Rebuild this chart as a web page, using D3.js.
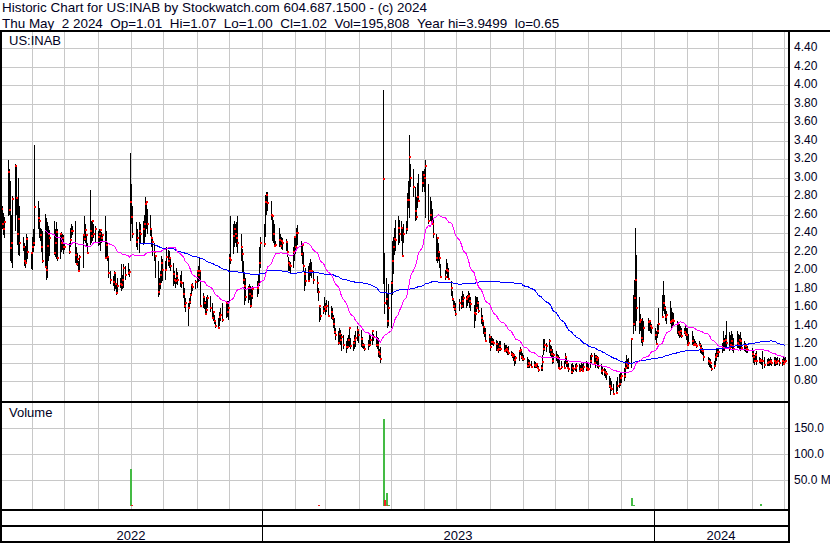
<!DOCTYPE html>
<html>
<head>
<meta charset="utf-8">
<title>US:INAB Historic Chart</title>
<script src="https://cdn.jsdelivr.net/npm/d3@7/dist/d3.min.js"></script>
<style>
  html, body { margin: 0; padding: 0; background: #fff; }
  svg { display: block; }
  text { font-family: "Liberation Sans", Arial, sans-serif; fill: #000022; }
</style>
</head>
<body>
<svg id="chart" width="830" height="543"></svg>
<script>
// ================= DATA =================
const titleText = "Historic Chart for US:INAB by Stockwatch.com 604.687.1500 - (c) 2024";
const infoText = "Thu May  2 2024  Op=1.01  Hi=1.07  Lo=1.00  Cl=1.02  Vol=195,808  Year hi=3.9499  lo=0.65";
const symbolText = "US:INAB";
const firstDay = "2022-05-02";
const lastDay = "2024-05-02";
const holidays = ["2022-05-30","2022-06-20","2022-07-04","2022-09-05","2022-11-24","2022-12-26",
  "2023-01-02","2023-01-16","2023-02-20","2023-04-07","2023-05-29","2023-06-19","2023-07-04",
  "2023-09-04","2023-11-23","2023-12-25","2024-01-01","2024-01-15","2024-02-19","2024-03-29"];
const priceTicks = [0.80,1.00,1.20,1.40,1.60,1.80,2.00,2.20,2.40,2.60,2.80,3.00,3.20,3.40,3.60,3.80,4.00,4.20,4.40];
const volumeTicks = [50,100,150];
const volumeTickLabels = ["50.0 M","100.0","150.0"];
const yearLabels = ["2022","2023","2024"];
const maShortPeriod = 30, maLongPeriod = 90;

// daily highs (one row per month, May 2022 .. May 2024)
const highs = [
2.75,2.72,2.70,2.62,2.58,3.19,3.10,2.97,2.60,2.81,3.15,3.13,2.80,3.00,2.70,2.36,2.30,2.26,2.39,2.36,2.19,
2.36,2.45,3.36,2.75,2.68,2.46,2.45,2.43,2.61,2.57,2.52,2.48,2.44,2.53,2.45,2.52,2.45,2.39,2.42,2.40,2.38,
2.29,2.30,2.46,2.50,2.48,2.54,2.25,2.19,2.10,2.17,2.39,2.59,2.50,2.39,2.30,2.87,2.53,2.53,2.50,2.48,
2.43,2.45,2.44,2.42,2.39,2.59,2.43,2.30,2.14,2.00,1.94,1.99,1.97,1.87,1.92,1.92,2.07,1.95,2.07,2.05,2.08,2.02,3.27,
2.93,2.70,2.52,2.45,2.52,2.50,2.54,2.60,2.79,2.75,2.66,2.60,2.45,2.35,2.30,2.17,2.10,1.92,2.00,2.16,2.12,
2.10,2.25,2.22,2.21,2.15,2.08,2.00,1.92,2.03,1.98,1.95,1.99,1.88,1.81,1.70,1.65,1.70,1.76,1.85,1.87,1.90,
1.99,2.05,2.14,1.99,1.76,1.72,1.67,1.71,1.74,1.72,1.65,1.56,1.52,1.47,1.49,1.55,1.60,1.65,1.67,1.67,1.67,
2.18,2.59,2.50,2.54,2.50,2.52,2.59,2.40,2.23,2.10,1.96,1.92,1.83,1.85,1.83,1.80,1.83,1.89,1.95,2.25,2.36,
2.50,2.82,2.85,2.85,2.75,2.61,2.55,2.50,2.32,2.46,2.40,2.36,2.35,2.34,2.30,2.15,2.10,2.09,2.25,2.36,
2.37,2.46,2.49,2.32,2.28,2.20,1.99,2.03,2.05,2.08,2.12,2.09,2.00,1.94,1.81,1.63,1.60,1.62,1.71,
1.65,1.68,1.67,1.62,1.60,1.52,1.49,1.38,1.35,1.38,1.36,1.31,1.30,1.24,1.27,1.30,1.38,1.27,1.24,1.30,1.35,1.40,1.36,
1.36,1.28,1.22,1.20,1.25,1.31,1.30,1.36,1.31,1.35,1.28,1.27,1.15,1.17,3.95,2.19,1.92,1.75,1.85,
1.89,2.32,2.36,2.46,2.55,2.59,2.55,2.53,2.46,2.50,2.53,2.84,2.97,3.47,3.15,3.10,2.90,2.79,2.95,3.04,3.08,3.08,
3.10,3.20,2.93,2.79,2.75,2.66,2.55,2.39,2.35,2.30,2.19,2.07,2.01,2.12,2.08,2.03,1.89,1.78,1.70,1.67,1.65,
1.69,1.72,1.78,1.75,1.72,1.74,1.78,1.76,1.71,1.63,1.72,1.71,1.71,1.67,1.60,1.52,1.45,1.40,1.38,1.31,
1.29,1.29,1.27,1.26,1.25,1.24,1.22,1.24,1.24,1.22,1.20,1.19,1.17,1.18,1.13,1.12,1.11,1.09,1.08,1.13,1.17,1.15,1.11,
1.09,1.06,1.04,1.03,1.02,1.02,1.01,1.00,0.99,0.97,0.98,1.09,1.26,1.26,1.22,1.26,1.20,1.18,1.15,1.11,
1.13,1.10,1.09,1.06,1.02,1.02,1.11,1.08,1.02,1.00,0.99,1.00,0.98,0.99,1.00,0.99,0.98,1.00,0.99,1.00,1.02,1.00,
1.00,1.09,1.11,1.11,1.09,1.09,1.08,1.04,0.99,0.97,0.95,0.93,0.91,0.86,0.84,0.81,0.77,0.81,0.85,0.88,0.90,
0.90,0.95,1.02,1.09,1.04,1.05,1.27,1.74,1.90,2.46,2.17,1.71,1.53,1.45,1.49,1.45,1.49,1.45,1.44,1.42,
1.38,1.35,1.42,1.60,1.74,1.89,1.74,1.62,1.56,1.67,1.60,1.55,1.54,1.45,1.42,1.42,1.40,1.38,1.38,1.42,1.38,
1.38,1.31,1.35,1.29,1.26,1.24,1.22,1.24,1.22,1.20,1.16,1.13,1.07,1.05,1.04,0.98,1.02,1.11,1.16,1.15,
1.15,1.22,1.35,1.27,1.30,1.45,1.33,1.30,1.35,1.31,1.27,1.35,1.31,1.30,1.33,1.27,1.24,1.22,1.20,1.18,
1.16,1.13,1.09,1.11,1.13,1.06,1.05,1.04,1.13,1.06,1.04,1.05,1.04,1.06,1.04,1.07,1.06,1.05,1.07,1.05,1.04,1.06,
1.05,1.07];

const lows = [
2.36,2.40,2.45,2.38,2.35,2.59,2.60,2.10,2.08,2.03,2.43,2.60,2.28,2.17,2.16,2.21,2.05,2.03,2.07,2.12,2.02,
2.01,2.20,2.27,2.45,2.35,2.32,2.20,2.08,2.03,1.90,1.92,2.10,2.16,2.17,2.15,2.12,2.10,2.12,2.20,2.22,2.18,
2.22,2.18,2.25,2.35,2.38,2.08,2.07,2.05,1.99,2.00,2.03,2.32,2.30,2.26,2.18,2.28,2.30,2.32,2.35,2.30,
2.26,2.28,2.21,2.30,2.32,2.14,2.12,2.10,1.92,1.85,1.83,1.78,1.80,1.74,1.76,1.81,1.78,1.80,1.81,1.90,1.95,1.93,2.32,
2.50,2.35,2.25,2.22,2.19,2.30,2.28,2.30,2.36,2.45,2.40,2.37,2.25,2.16,2.10,1.92,1.71,1.73,1.80,1.87,1.89,
1.90,2.00,2.05,2.03,2.00,1.83,1.85,1.81,1.85,1.84,1.82,1.81,1.70,1.60,1.55,1.40,1.58,1.64,1.72,1.78,1.80,
1.81,1.88,1.89,1.62,1.60,1.58,1.53,1.54,1.60,1.55,1.49,1.45,1.42,1.38,1.38,1.40,1.45,1.44,1.49,1.50,1.47,
1.65,2.07,2.18,2.25,2.30,2.25,2.19,2.10,1.98,1.85,1.63,1.67,1.65,1.68,1.60,1.62,1.69,1.71,1.75,1.83,2.03,
2.25,2.36,2.60,2.64,2.55,2.32,2.30,2.25,2.25,2.25,2.25,2.23,2.22,2.21,2.15,2.00,1.99,1.97,2.03,2.10,
2.18,2.25,2.28,2.16,2.07,2.00,1.78,1.83,1.89,1.90,1.94,1.92,1.85,1.76,1.67,1.44,1.46,1.53,1.56,
1.52,1.55,1.51,1.48,1.46,1.38,1.31,1.25,1.20,1.22,1.20,1.13,1.15,1.11,1.15,1.16,1.17,1.15,1.13,1.15,1.17,1.24,1.22,
1.17,1.16,1.15,1.13,1.14,1.17,1.18,1.20,1.24,1.17,1.15,1.06,1.05,1.00,1.85,1.53,1.63,1.38,1.40,
1.38,1.74,1.96,2.17,2.21,2.28,2.30,2.32,2.16,2.30,2.39,2.43,2.68,2.57,2.90,2.80,2.54,2.55,2.68,2.75,2.85,2.90,
2.85,2.57,2.50,2.54,2.52,2.50,2.35,2.10,2.08,2.10,2.03,1.92,1.90,1.96,1.92,1.90,1.72,1.67,1.60,1.56,1.51,
1.56,1.58,1.60,1.60,1.60,1.62,1.65,1.60,1.56,1.38,1.45,1.55,1.60,1.54,1.42,1.40,1.31,1.28,1.24,1.22,
1.13,1.20,1.20,1.18,1.13,1.13,1.11,1.13,1.13,1.13,1.13,1.11,1.09,1.09,1.08,1.05,1.02,0.97,0.99,1.02,1.09,1.04,1.02,
1.02,0.95,0.95,0.95,0.95,0.95,0.95,0.95,0.93,0.90,0.91,0.91,1.09,1.13,1.12,1.11,1.08,1.05,0.99,1.00,
1.02,1.00,0.95,0.93,0.93,0.93,0.99,0.96,0.93,0.90,0.88,0.88,0.90,0.91,0.90,0.90,0.90,0.91,0.90,0.91,0.91,0.91,
0.91,0.95,0.99,0.99,0.95,0.99,0.95,0.93,0.88,0.87,0.86,0.84,0.82,0.73,0.65,0.70,0.66,0.68,0.70,0.73,0.75,
0.78,0.81,0.84,0.95,0.93,0.94,0.95,1.31,1.40,1.35,1.45,1.31,1.35,1.22,1.18,1.25,1.35,1.35,1.32,1.31,
1.25,1.20,1.27,1.31,1.49,1.56,1.53,1.45,1.42,1.42,1.38,1.40,1.40,1.31,1.29,1.27,1.28,1.27,1.31,1.29,1.25,
1.20,1.20,1.20,1.18,1.18,1.18,1.16,1.18,1.11,1.10,1.09,1.02,0.98,0.96,0.95,0.91,0.93,0.98,1.02,1.07,
1.07,1.11,1.13,1.13,1.15,1.16,1.13,1.15,1.16,1.13,1.11,1.16,1.16,1.15,1.13,1.15,1.13,1.12,1.11,1.11,
1.07,1.00,0.98,1.02,0.98,1.00,0.99,0.98,0.93,0.95,0.97,0.97,0.97,0.98,0.97,0.97,0.97,0.98,0.98,0.97,0.97,0.98,
0.98,1.00];

const closes = [
2.48,2.67,2.50,2.45,2.52,3.07,2.65,2.24,2.30,2.77,3.13,2.78,2.40,2.56,2.30,2.25,2.10,2.08,2.34,2.20,2.19,
2.25,2.30,2.69,2.57,2.53,2.38,2.25,2.10,2.04,2.01,2.26,2.40,2.35,2.19,2.30,2.42,2.14,2.39,2.30,2.35,2.25,
2.25,2.20,2.33,2.43,2.43,2.17,2.07,2.12,1.99,2.15,2.38,2.34,2.44,2.38,2.19,2.43,2.37,2.53,2.40,2.45,
2.36,2.40,2.44,2.35,2.38,2.14,2.28,2.15,1.97,1.90,1.88,1.97,1.85,1.76,1.83,1.85,1.84,1.90,2.03,1.95,1.97,1.98,2.74,
2.58,2.40,2.31,2.35,2.43,2.40,2.45,2.50,2.72,2.74,2.50,2.45,2.35,2.31,2.20,2.16,1.77,1.85,1.95,2.08,2.01,
2.01,2.15,2.10,2.13,2.05,1.96,1.90,1.89,1.94,1.90,1.88,1.87,1.75,1.62,1.65,1.60,1.66,1.73,1.84,1.82,1.88,
1.99,1.95,1.99,1.62,1.71,1.65,1.53,1.57,1.70,1.60,1.49,1.55,1.45,1.40,1.38,1.50,1.52,1.47,1.65,1.55,1.60,
2.14,2.11,2.37,2.45,2.40,2.35,2.30,2.25,2.18,1.90,1.83,1.71,1.81,1.75,1.62,1.72,1.80,1.81,1.85,2.08,2.30,
2.29,2.74,2.82,2.73,2.60,2.59,2.40,2.26,2.28,2.33,2.27,2.32,2.30,2.31,2.20,2.08,2.06,2.05,2.20,2.36,
2.25,2.41,2.41,2.18,2.28,2.05,1.96,1.89,1.89,2.00,1.99,2.00,1.90,1.86,1.77,1.62,1.51,1.56,1.61,
1.58,1.62,1.51,1.55,1.49,1.42,1.34,1.30,1.22,1.31,1.25,1.28,1.20,1.17,1.17,1.25,1.38,1.18,1.22,1.25,1.27,1.36,1.30,
1.26,1.20,1.20,1.15,1.19,1.19,1.25,1.35,1.28,1.20,1.20,1.12,1.10,1.04,2.99,1.65,1.69,1.45,1.60,
1.87,2.10,2.25,2.34,2.33,2.46,2.40,2.46,2.16,2.40,2.45,2.76,2.76,3.23,3.00,2.90,2.64,2.58,2.79,2.75,2.95,3.03,
3.00,3.13,2.53,2.60,2.52,2.50,2.40,2.14,2.35,2.20,2.14,1.93,1.93,2.01,2.00,1.91,1.81,1.69,1.62,1.58,1.53,
1.65,1.62,1.67,1.70,1.69,1.71,1.72,1.67,1.64,1.54,1.53,1.60,1.65,1.56,1.49,1.45,1.39,1.32,1.24,1.28,
1.17,1.23,1.23,1.22,1.21,1.14,1.15,1.18,1.15,1.13,1.14,1.15,1.13,1.11,1.10,1.08,1.09,1.03,1.05,1.13,1.14,1.06,1.04,
1.04,0.97,1.00,0.98,0.96,0.98,0.97,0.99,0.95,0.92,0.95,1.01,1.15,1.20,1.18,1.24,1.14,1.10,1.02,1.09,
1.06,1.05,0.95,0.94,0.96,0.95,1.06,1.00,0.95,0.93,0.90,0.95,0.94,0.95,0.97,0.91,0.94,0.93,0.91,0.96,0.95,0.92,
0.93,1.02,1.08,1.00,1.06,1.03,1.05,0.97,0.91,0.92,0.90,0.89,0.88,0.75,0.73,0.72,0.67,0.68,0.75,0.77,0.84,
0.86,0.86,0.95,0.99,0.97,1.00,1.26,1.42,1.70,1.90,1.60,1.44,1.47,1.27,1.24,1.38,1.44,1.45,1.40,1.38,
1.30,1.21,1.35,1.42,1.50,1.65,1.60,1.50,1.52,1.44,1.45,1.47,1.45,1.42,1.33,1.31,1.35,1.29,1.34,1.31,1.30,
1.20,1.22,1.24,1.20,1.21,1.20,1.18,1.20,1.16,1.14,1.13,1.06,1.02,1.01,1.00,0.93,0.97,1.06,1.09,1.12,
1.12,1.16,1.24,1.16,1.25,1.22,1.16,1.20,1.24,1.18,1.15,1.22,1.20,1.25,1.24,1.16,1.20,1.18,1.15,1.14,
1.10,1.07,1.02,1.09,1.02,1.02,1.03,1.02,1.02,0.98,1.00,1.01,1.01,1.02,1.00,1.02,1.00,1.01,1.02,1.00,1.02,0.99,
1.01,1.02];

// daily volume, millions of shares
const volumes = [
0.6,0.4,0.5,0.3,0.3,0.9,0.5,0.6,0.4,0.5,0.7,0.4,0.3,0.4,0.3,0.2,0.3,0.2,0.3,0.2,0.2,
0.3,0.2,0.9,0.4,0.3,0.2,0.2,0.3,0.3,0.4,0.3,0.2,0.2,0.2,0.2,0.2,0.3,0.2,0.2,0.2,0.2,
0.1,0.2,0.2,0.2,0.2,0.3,0.2,0.2,0.2,0.2,0.3,0.3,0.2,0.2,0.2,0.5,0.2,0.2,0.2,0.2,
0.2,0.2,0.2,0.1,0.1,0.3,0.2,0.2,0.3,0.2,0.2,0.2,0.2,0.2,0.2,0.1,0.2,0.2,0.2,0.1,0.1,0.2,71.0,
2.0,0.8,0.5,0.4,0.3,0.3,0.3,0.3,0.6,0.4,0.3,0.3,0.2,0.2,0.2,0.3,0.4,0.3,0.2,0.3,0.2,
0.2,0.3,0.2,0.2,0.2,0.2,0.2,0.2,0.2,0.1,0.1,0.2,0.2,0.3,0.2,0.3,0.2,0.2,0.2,0.1,0.1,
0.2,0.2,0.3,0.3,0.2,0.2,0.2,0.2,0.2,0.2,0.2,0.2,0.2,0.2,0.2,0.2,0.1,0.1,0.2,0.2,0.2,
0.5,0.8,0.4,0.3,0.3,0.2,0.3,0.2,0.2,0.3,0.3,0.2,0.2,0.2,0.2,0.1,0.1,0.2,0.2,0.4,0.4,
0.3,0.6,0.5,0.3,0.3,0.3,0.2,0.2,0.2,0.2,0.2,0.2,0.1,0.1,0.2,0.2,0.2,0.1,0.2,0.3,
0.2,0.2,0.2,0.2,0.2,0.2,0.4,0.2,0.2,0.2,0.1,0.1,0.2,0.3,3.0,0.6,0.4,0.2,0.2,
0.2,0.2,0.2,0.2,0.2,0.3,0.3,0.3,0.4,0.3,0.2,0.3,0.3,0.2,0.2,0.2,0.3,0.2,0.2,0.2,0.2,0.2,0.2,
0.2,0.2,0.1,0.1,0.1,0.2,0.2,0.2,0.1,0.2,0.1,0.2,0.2,0.3,167.0,11.5,25.6,3.0,2.0,
1.5,1.2,0.9,0.8,0.7,0.6,0.5,0.4,0.5,0.4,0.4,0.8,0.9,1.2,0.8,0.6,0.5,0.4,0.5,0.4,0.4,0.4,
0.5,0.6,0.5,0.4,0.3,0.3,0.3,0.4,0.3,0.3,0.3,0.3,0.2,0.2,0.2,0.2,0.3,0.3,0.2,0.2,0.2,
0.2,0.2,0.2,0.2,0.2,0.2,0.2,0.2,0.2,0.3,0.2,0.2,0.2,0.2,0.2,0.2,0.3,0.2,0.2,0.2,
0.2,0.2,0.1,0.1,0.1,0.2,0.1,0.1,0.1,0.1,0.1,0.1,0.1,0.1,0.1,0.1,0.1,0.2,0.1,0.1,0.1,0.1,0.1,
0.1,0.1,0.1,0.1,0.1,0.1,0.1,0.1,0.1,0.2,0.2,0.3,0.8,0.5,0.3,0.4,0.2,0.2,0.2,0.2,
0.2,0.1,0.1,0.1,0.1,0.1,0.2,0.1,0.1,0.1,0.1,0.1,0.1,0.1,0.1,0.1,0.1,0.1,0.1,0.1,0.1,0.1,
0.1,0.2,0.2,0.1,0.1,0.1,0.1,0.1,0.1,0.1,0.1,0.1,0.1,0.3,0.4,0.3,0.2,0.2,0.2,0.2,0.3,
0.2,0.3,0.4,0.3,0.2,0.3,16.0,2.0,1.0,1.5,0.9,0.6,0.4,0.4,0.4,0.3,0.2,0.2,0.2,0.2,
0.3,0.3,0.3,0.5,0.7,0.9,0.5,0.4,0.3,0.4,0.3,0.3,0.2,0.2,0.2,0.2,0.2,0.2,0.2,0.2,0.2,
0.2,0.2,0.2,0.2,0.1,0.1,0.1,0.1,0.2,0.1,0.1,0.2,0.2,0.1,0.1,0.2,0.2,0.2,0.2,0.1,
0.1,0.2,0.4,0.2,0.2,0.5,0.2,0.2,0.3,0.2,0.2,0.3,0.2,0.2,0.2,0.2,0.2,0.1,0.1,0.1,
0.1,0.2,0.2,0.2,0.2,0.2,4.0,0.4,0.5,0.3,0.2,0.2,0.2,0.2,0.2,0.2,0.2,0.2,0.2,0.2,0.2,0.2,
0.2,0.196];

// ================= CHART =================
const W = 830, H = 543;
const plotRight = 788;
const priceTop = 32, priceBottom = 401;
const volTop = 403, volBottom = 509;
const ink = "#000000";

const parse = d3.timeParse("%Y-%m-%d");
const fmt = d3.timeFormat("%Y-%m-%d");
const holidaySet = new Set(holidays);
const dates = d3.timeDay.range(parse(firstDay), d3.timeDay.offset(parse(lastDay), 1))
  .filter(d => d.getDay() !== 0 && d.getDay() !== 6 && !holidaySet.has(fmt(d)));
const n = Math.min(dates.length, highs.length, lows.length, closes.length, volumes.length);

const x = d3.scaleTime().domain([parse("2022-05-02"), parse("2024-01-01")]).range([0, 654]);
const y = d3.scaleLinear().domain([0.80, 4.40]).range([381.5, 48.5]);
const yv = d3.scaleLinear().domain([0, 150]).range([506.3, 428.3]);
const px = d => Math.round(x(d));

const svg = d3.select("#chart");
svg.append("rect").attr("width", W).attr("height", H).attr("fill", "#fff");

// header: one font size for both lines, chosen so the title spans x = 2..427 as in the reference
const t1 = svg.append("text").attr("x", 2).attr("y", 12).attr("font-size", 13).text(titleText);
const w1 = t1.node().getComputedTextLength();
const headerSize = w1 > 0 ? Math.min(14, Math.max(12.5, 13 * 425 / w1)) : 13.4;
t1.attr("font-size", headerSize.toFixed(2));
svg.append("text").attr("x", 2).attr("y", 27.5).attr("font-size", headerSize.toFixed(2))
  .text(infoText.replace(/ /g, "\u00a0"));

// grid
const grid = svg.append("g").attr("stroke", "#c8c8c8").attr("stroke-width", 1)
  .attr("shape-rendering", "crispEdges");
const months = d3.timeMonth.range(d3.timeMonth.ceil(parse(firstDay)), parse(lastDay));
months.forEach(m => {
  const gx = px(m) + 0.5;
  grid.append("line").attr("x1", gx).attr("x2", gx).attr("y1", priceTop).attr("y2", priceBottom);
  grid.append("line").attr("x1", gx).attr("x2", gx).attr("y1", volTop).attr("y2", volBottom);
});
priceTicks.forEach(p => {
  const gy = Math.floor(y(p)) + 0.5;
  grid.append("line").attr("x1", 2).attr("x2", plotRight).attr("y1", gy).attr("y2", gy);
});
volumeTicks.forEach(v => {
  const gy = Math.floor(yv(v)) + 0.5;
  grid.append("line").attr("x1", 2).attr("x2", plotRight).attr("y1", gy).attr("y2", gy);
});

// price bars
const bars = svg.append("g").attr("shape-rendering", "crispEdges");
for (let i = 0; i < n; i++) {
  const bx = px(dates[i]);
  const yt = Math.round(y(highs[i])), yb = Math.round(y(lows[i]));
  bars.append("rect").attr("x", bx).attr("y", yt).attr("width", 1).attr("height", Math.max(1, yb - yt))
    .attr("fill", ink);
}
for (let i = 0; i < n; i++) {
  const bx = px(dates[i]);
  bars.append("rect").attr("x", bx).attr("y", Math.round(y(closes[i])) - 1)
    .attr("width", 2).attr("height", 2).attr("fill", "#ff0000");
}

// moving averages
function sma(arr, p) {
  return arr.map((_, i) => i < p - 1 ? null : d3.mean(arr.slice(i - p + 1, i + 1)));
}
const closeN = closes.slice(0, n);
const maS = sma(closeN, maShortPeriod), maL = sma(closeN, maLongPeriod);
const maLine = d3.line().defined(d => d[1] != null).x(d => d[0]).y(d => y(d[1]));
svg.append("path").attr("d", maLine(maL.map((v, i) => [px(dates[i]) + 0.5, v])))
  .attr("fill", "none").attr("stroke", "#0000ff").attr("stroke-width", 1).attr("shape-rendering", "crispEdges");
svg.append("path").attr("d", maLine(maS.map((v, i) => [px(dates[i]) + 0.5, v])))
  .attr("fill", "none").attr("stroke", "#ff00ff").attr("stroke-width", 1).attr("shape-rendering", "crispEdges");

// volume bars
const vol = svg.append("g").attr("shape-rendering", "crispEdges");
for (let i = 0; i < n; i++) {
  const top = Math.round(yv(volumes[i])), base = Math.round(yv(0));
  if (base - top < 1) continue;
  const up = i === 0 || closes[i] >= closes[i - 1];
  vol.append("rect").attr("x", px(dates[i])).attr("y", top).attr("width", 2).attr("height", base - top)
    .attr("fill", up ? "#44bb44" : "#ee2222");
}

// frame lines
const frame = svg.append("g").attr("fill", ink).attr("shape-rendering", "crispEdges");
frame.append("rect").attr("x", 0).attr("y", 30).attr("width", W).attr("height", 2);
frame.append("rect").attr("x", 0).attr("y", 30).attr("width", 2).attr("height", H - 30);
frame.append("rect").attr("x", plotRight).attr("y", 30).attr("width", 2).attr("height", H - 30);
frame.append("rect").attr("x", 0).attr("y", priceBottom).attr("width", plotRight + 2).attr("height", 2);
frame.append("rect").attr("x", 0).attr("y", volBottom).attr("width", plotRight + 2).attr("height", 2);
frame.append("rect").attr("x", 0).attr("y", 525).attr("width", plotRight + 2).attr("height", 2);
frame.append("rect").attr("x", 0).attr("y", 541).attr("width", plotRight + 2).attr("height", 2);
const yearStarts = [parse("2023-01-01"), parse("2024-01-01")];
yearStarts.forEach(d => {
  frame.append("rect").attr("x", px(d)).attr("y", volBottom).attr("width", 1).attr("height", H - volBottom);
});

// labels
svg.append("text").attr("x", 9).attr("y", 45).attr("font-size", 13).text(symbolText);
svg.append("text").attr("x", 9).attr("y", 417).attr("font-size", 13).text("Volume");

priceTicks.forEach(p => {
  svg.append("text").attr("x", 794).attr("y", Math.floor(y(p)) + 0.5).attr("dy", "0.2em")
    .attr("font-size", 12).text(d3.format(".2f")(p));
});
volumeTicks.forEach((v, i) => {
  svg.append("text").attr("x", 794).attr("y", Math.floor(yv(v)) + 0.5).attr("dy", "0.3em")
    .attr("font-size", 12).text(volumeTickLabels[i]);
});

const yearBounds = [parse("2022-05-02"), parse("2023-01-01"), parse("2024-01-01"), parse("2024-05-05")];
yearLabels.forEach((t, i) => {
  const cx = (Math.max(0, x(yearBounds[i])) + Math.min(plotRight, x(yearBounds[i + 1]))) / 2;
  svg.append("text").attr("x", cx).attr("y", 540).attr("text-anchor", "middle")
    .attr("font-size", 13).text(t);
});
</script>
</body>
</html>
